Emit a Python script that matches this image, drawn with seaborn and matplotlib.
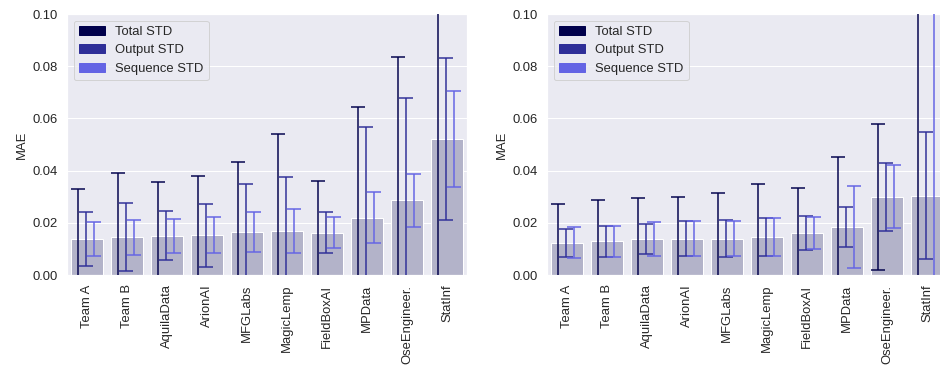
import matplotlib
matplotlib.use("Agg")
import matplotlib.pyplot as plt
import seaborn as sns
import numpy as np
from matplotlib.patches import Patch

# Teams on the x axis
teams = ["Team A", "Team B", "AquilaData", "ArionAI", "MFGLabs", "MagicLemp",
         "FieldBoxAI", "MPData", "OseEngineer.", "StatInf"]

# Left panel: mean MAE and the three standard deviations
mae_left = [0.0138, 0.0144, 0.0150, 0.0152, 0.0166, 0.0167, 0.0162, 0.0220, 0.0286, 0.0521]
total_left = [0.0191, 0.0245, 0.0207, 0.0227, 0.0268, 0.0374, 0.0199, 0.0425, 0.0548, 0.0650]
output_left = [0.0103, 0.0130, 0.0094, 0.0120, 0.0181, 0.0208, 0.0078, 0.0348, 0.0393, 0.0312]
seq_left = [0.0065, 0.0067, 0.0066, 0.0069, 0.0077, 0.0084, 0.0060, 0.0097, 0.0102, 0.0183]

# Right panel
mae_right = [0.0124, 0.0129, 0.0138, 0.0139, 0.0139, 0.0146, 0.0161, 0.0184, 0.0300, 0.0304]
total_right = [0.0149, 0.0157, 0.0157, 0.0161, 0.0176, 0.0201, 0.0171, 0.0269, 0.0280, 0.0900]
output_right = [0.0054, 0.0060, 0.0058, 0.0066, 0.0070, 0.0072, 0.0066, 0.0075, 0.0131, 0.0244]
seq_right = [0.0060, 0.0060, 0.0066, 0.0066, 0.0068, 0.0072, 0.0061, 0.0157, 0.0121, 0.0850]

std_names = ["Total STD", "Output STD", "Sequence STD"]
std_colors = ["#02024c", "#2f2f98", "#6464e4"]
bar_color = "#b3b3c9"
fs = 13

sns.set_theme(style="darkgrid")
plt.rcParams['font.family'] = ['Liberation Sans', 'DejaVu Sans']

fig = plt.figure(figsize=(940 / 72, 367 / 72), dpi=72)
ax1 = fig.add_axes([67 / 940, 92 / 367, 400 / 940, 261 / 367])
ax2 = fig.add_axes([547 / 940, 92 / 367, 400 / 940, 261 / 367])

offsets = [-0.22, -0.02, 0.18]
x = np.arange(len(teams))


def draw_panel(ax, mae, stds):
    sns.barplot(x=teams, y=mae, color=bar_color, saturation=1, width=0.8,
                edgecolor="white", linewidth=1, ax=ax)
    for std, off, col in zip(stds, offsets, std_colors):
        ax.errorbar(x + off, mae, yerr=std, fmt="none", ecolor=col,
                    elinewidth=2, capsize=7, capthick=2, alpha=0.75, zorder=3)
    ax.set_ylim(0, 0.1)
    ax.set_xlim(-0.5, len(teams) - 0.5)
    ax.set_ylabel("MAE", fontsize=fs)
    ax.set_yticks([0, 0.02, 0.04, 0.06, 0.08, 0.10])
    ax.set_yticklabels(["0.00", "0.02", "0.04", "0.06", "0.08", "0.10"], fontsize=fs)
    ax.set_xticks(x)
    ax.set_xticklabels(teams, rotation=90, fontsize=fs)
    handles = [Patch(color=c, label=n) for c, n in zip(std_colors, std_names)]
    ax.legend(handles=handles, loc="upper left", fontsize=fs)


draw_panel(ax1, mae_left, [total_left, output_left, seq_left])
draw_panel(ax2, mae_right, [total_right, output_right, seq_right])

fig.savefig("out.png", dpi=72)
